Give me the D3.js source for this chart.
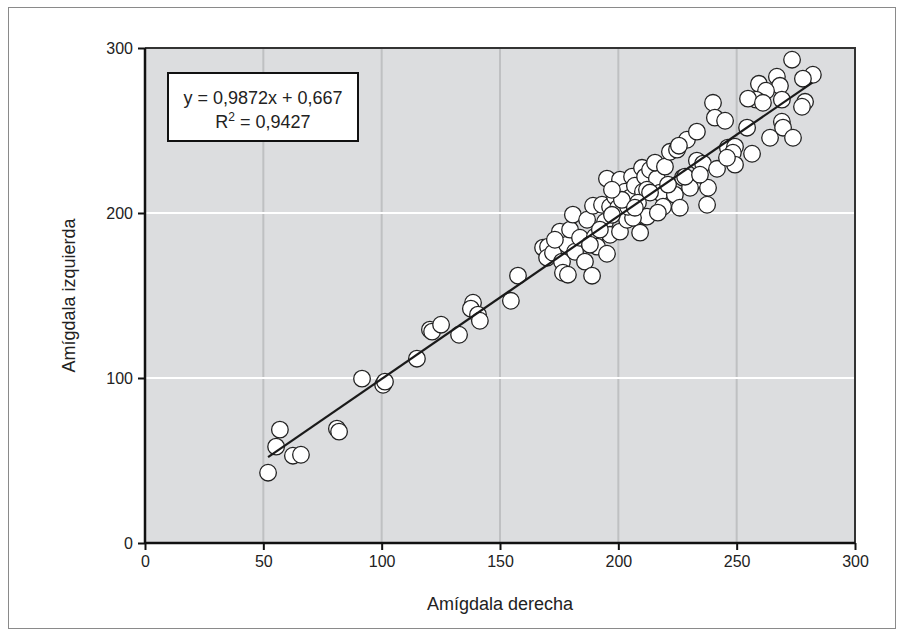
<!DOCTYPE html>
<html>
<head>
<meta charset="utf-8">
<script src="https://cdn.jsdelivr.net/npm/d3@7/dist/d3.min.js"></script>
<style>
  html, body { margin: 0; padding: 0; background: #fff; }
  svg { display: block; }
  text { font-family: "Liberation Sans", Arial, Helvetica, sans-serif; fill: #222; }
</style>
</head>
<body>
<svg id="chart" width="904" height="637"></svg>
<script>
// Right amygdala volume (x) and left amygdala volume (y) per subject
const derecha = [
  52.0, 55.4, 57.0, 62.5, 65.9, 81.1, 82.0, 91.7, 100.6, 101.4,
  114.9, 120.4, 121.3, 125.1, 132.7, 138.6, 137.7, 140.7, 141.5, 154.6,
  157.6, 168.2, 170.3, 169.9, 172.4, 175.3, 176.2, 176.6, 178.7, 178.3,
  179.6, 180.8, 181.7, 183.8, 185.9, 186.8, 188.9, 189.3, 190.1, 191.0,
  193.1, 194.4, 195.2, 195.2, 196.5, 196.5, 198.6, 199.9, 200.7, 200.7,
  202.8, 203.7, 204.9, 205.8, 207.0, 209.2, 210.0, 210.4, 211.3, 211.3,
  213.4, 216.3, 215.5, 219.7, 221.8, 224.8, 229.0, 225.6, 233.2, 240.0,
  240.8, 245.1, 233.2, 235.8, 241.7, 246.3, 249.3, 248.4, 256.5, 249.3,
  245.9, 254.4, 227.3, 231.5, 237.9, 212.1, 217.6, 223.9, 218.9, 226.0,
  237.5, 212.1, 216.7, 230.3, 228.2, 206.2, 204.1, 208.3, 213.4, 273.4,
  282.2, 278.0, 267.0, 268.3, 259.4, 262.4, 258.2, 254.8, 261.1, 269.1,
  278.9, 277.6, 269.1, 269.6, 264.1, 273.8, 197.3, 201.5, 207.0, 192.2,
  188.0, 173.2, 221.0, 234.5, 197.3
];
const izquierda = [
  42.6, 58.4, 68.7, 52.9, 53.5, 69.3, 67.5, 99.6, 95.9, 97.8,
  111.7, 129.3, 128.1, 132.3, 126.2, 145.6, 142.0, 138.4, 134.7, 146.8,
  162.0, 179.0, 179.6, 172.9, 175.9, 188.7, 170.5, 163.8, 162.6, 180.8,
  189.9, 199.0, 176.5, 185.0, 170.5, 195.9, 162.0, 204.4, 185.6, 179.6,
  205.0, 194.7, 175.3, 220.8, 203.8, 186.8, 209.9, 203.2, 220.2, 188.7,
  212.9, 195.9, 209.3, 222.0, 216.5, 188.1, 227.4, 212.9, 222.0, 197.8,
  226.2, 220.8, 230.5, 228.1, 237.1, 238.4, 244.4, 240.8, 249.3, 266.8,
  257.8, 255.9, 231.7, 229.9, 226.8, 239.6, 240.2, 236.5, 235.9, 229.3,
  233.5, 251.7, 221.4, 218.4, 215.3, 214.1, 212.3, 211.1, 203.8, 203.2,
  205.0, 197.8, 200.2, 215.3, 222.0, 197.1, 203.8, 206.2, 212.4, 292.9,
  283.8, 281.4, 282.6, 277.1, 278.3, 274.1, 268.7, 269.3, 266.8, 268.7,
  267.4, 264.4, 255.3, 251.7, 245.6, 245.6, 198.9, 208.0, 203.2, 189.9,
  180.8, 183.8, 217.2, 223.2, 214.1
];

// Linear fit shown in the legend box
const pendiente = 0.9872;
const intercepto = 0.667;
const r2 = "0,9427";
const ajusteRango = [52, 282];

const xTicks = [0, 50, 100, 150, 200, 250, 300];
const yTicks = [0, 100, 200, 300];
const xGrid = [50, 100, 150, 200, 250];
const yGrid = [100, 200];

const svg = d3.select("#chart");
const area = { left: 145, right: 855, top: 48, bottom: 543 };

const x = d3.scaleLinear().domain([0, 300]).range([area.left, area.right]);
const y = d3.scaleLinear().domain([0, 300]).range([area.bottom, area.top]);

// outer frame
svg.append("rect")
  .attr("x", 8.5).attr("y", 7.5).attr("width", 887).attr("height", 621)
  .attr("fill", "none").attr("stroke", "#8a8a8a").attr("stroke-width", 1);

// plot background
svg.append("rect")
  .attr("x", area.left).attr("y", area.top)
  .attr("width", area.right - area.left).attr("height", area.bottom - area.top)
  .attr("fill", "#dcdddf");

// grid lines
svg.append("g").selectAll("line").data(xGrid).join("line")
  .attr("x1", d => x(d)).attr("x2", d => x(d))
  .attr("y1", area.top).attr("y2", area.bottom)
  .attr("stroke", "#bfc0c2").attr("stroke-width", 2);
svg.append("g").selectAll("line").data(yGrid).join("line")
  .attr("x1", area.left).attr("x2", area.right)
  .attr("y1", d => y(d)).attr("y2", d => y(d))
  .attr("stroke", "#ffffff").attr("stroke-width", 2);

// top and right border
svg.append("path")
  .attr("d", `M${area.left},${area.top}H${area.right}V${area.bottom}`)
  .attr("fill", "none").attr("stroke", "#333").attr("stroke-width", 2);

// axes
const xAxis = d3.axisBottom(x).tickValues(xTicks).tickSize(7).tickPadding(6).tickFormat(d3.format("d"));
const yAxis = d3.axisLeft(y).tickValues(yTicks).tickSize(7).tickPadding(5).tickFormat(d3.format("d"));

const gx = svg.append("g").attr("transform", `translate(0,${area.bottom})`).call(xAxis);
const gy = svg.append("g").attr("transform", `translate(${area.left},0)`).call(yAxis);
[gx, gy].forEach(g => {
  g.select(".domain").attr("stroke", "#111").attr("stroke-width", 2.5);
  g.selectAll(".tick line").attr("stroke", "#111").attr("stroke-width", 2);
  g.selectAll(".tick text").attr("font-size", 16).attr("fill", "#222")
    .attr("font-family", "'Liberation Sans', Arial, sans-serif");
});
gx.select(".domain").attr("d", `M${area.left},0H${area.right}`);
gy.select(".domain").attr("d", `M0,${area.bottom}V${area.top}`);

// data points
svg.append("g").selectAll("circle").data(derecha.map((d, i) => [d, izquierda[i]])).join("circle")
  .attr("cx", d => x(d[0])).attr("cy", d => y(d[1])).attr("r", 8.3)
  .attr("fill", "#fff").attr("stroke", "#222").attr("stroke-width", 1.3);

// regression line
svg.append("line")
  .attr("x1", x(ajusteRango[0])).attr("y1", y(pendiente * ajusteRango[0] + intercepto))
  .attr("x2", x(ajusteRango[1])).attr("y2", y(pendiente * ajusteRango[1] + intercepto))
  .attr("stroke", "#1a1a1a").attr("stroke-width", 2.2);

// equation box
svg.append("rect")
  .attr("x", 168).attr("y", 73).attr("width", 190).attr("height", 68)
  .attr("fill", "#fff").attr("stroke", "#111").attr("stroke-width", 2);
svg.append("text").attr("x", 263).attr("y", 104).attr("text-anchor", "middle")
  .attr("font-size", 18)
  .text(`y = ${String(pendiente).replace(".", ",")}x + ${String(intercepto).replace(".", ",")}`);
const r2t = svg.append("text").attr("x", 263).attr("y", 128).attr("text-anchor", "middle")
  .attr("font-size", 18);
r2t.append("tspan").text("R");
r2t.append("tspan").attr("dy", -7).attr("font-size", 12).text("2");
r2t.append("tspan").attr("dy", 7).text(` = ${r2}`);

// axis titles
svg.append("text").attr("x", x(150)).attr("y", 610).attr("text-anchor", "middle")
  .attr("font-size", 18).text("Amígdala derecha");
svg.append("text").attr("transform", `translate(75,${(area.top + area.bottom) / 2}) rotate(-90)`)
  .attr("text-anchor", "middle").attr("font-size", 18).text("Amígdala izquierda");
</script>
</body>
</html>
